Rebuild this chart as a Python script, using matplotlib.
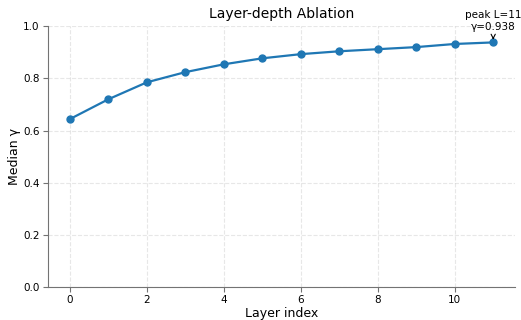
import matplotlib
matplotlib.use("Agg")
import matplotlib.pyplot as plt

layers = list(range(12))
median_gamma = [0.644, 0.720, 0.785, 0.824, 0.854, 0.877, 0.893, 0.904, 0.912, 0.920, 0.932, 0.938]

fig, ax = plt.subplots(figsize=(5.21, 3.2), dpi=100)
ax.plot(layers, median_gamma, color="#1f77b4", marker="o", markersize=5, linewidth=1.6)

# annotate the peak
peak_i = max(range(len(median_gamma)), key=lambda i: median_gamma[i])
ax.annotate("peak L={}\nγ={:.3f}".format(layers[peak_i], median_gamma[peak_i]),
            xy=(layers[peak_i], median_gamma[peak_i]),
            xytext=(layers[peak_i], median_gamma[peak_i] + 0.04),
            ha="center", va="bottom", fontsize=7.5,
            arrowprops=dict(arrowstyle="->", color="black", lw=0.8))

ax.set_ylim(0, 1.0)
ax.set_xlim(-0.57, 11.56)
ax.set_xticks([0, 2, 4, 6, 8, 10])
ax.set_title("Layer-depth Ablation", fontsize=10)
ax.set_xlabel("Layer index", fontsize=9, labelpad=1.5)
ax.set_ylabel("Median γ", fontsize=9, labelpad=1.5)
ax.tick_params(labelsize=7.5, pad=2.5, color="0.45")
ax.grid(True, linestyle="--", alpha=0.3)
ax.spines["top"].set_visible(False)
ax.spines["right"].set_visible(False)
ax.spines["left"].set_color("0.45")
ax.spines["bottom"].set_color("0.45")

fig.subplots_adjust(left=0.092, right=0.988, top=0.918, bottom=0.103)
fig.savefig("out.png", dpi=100)
